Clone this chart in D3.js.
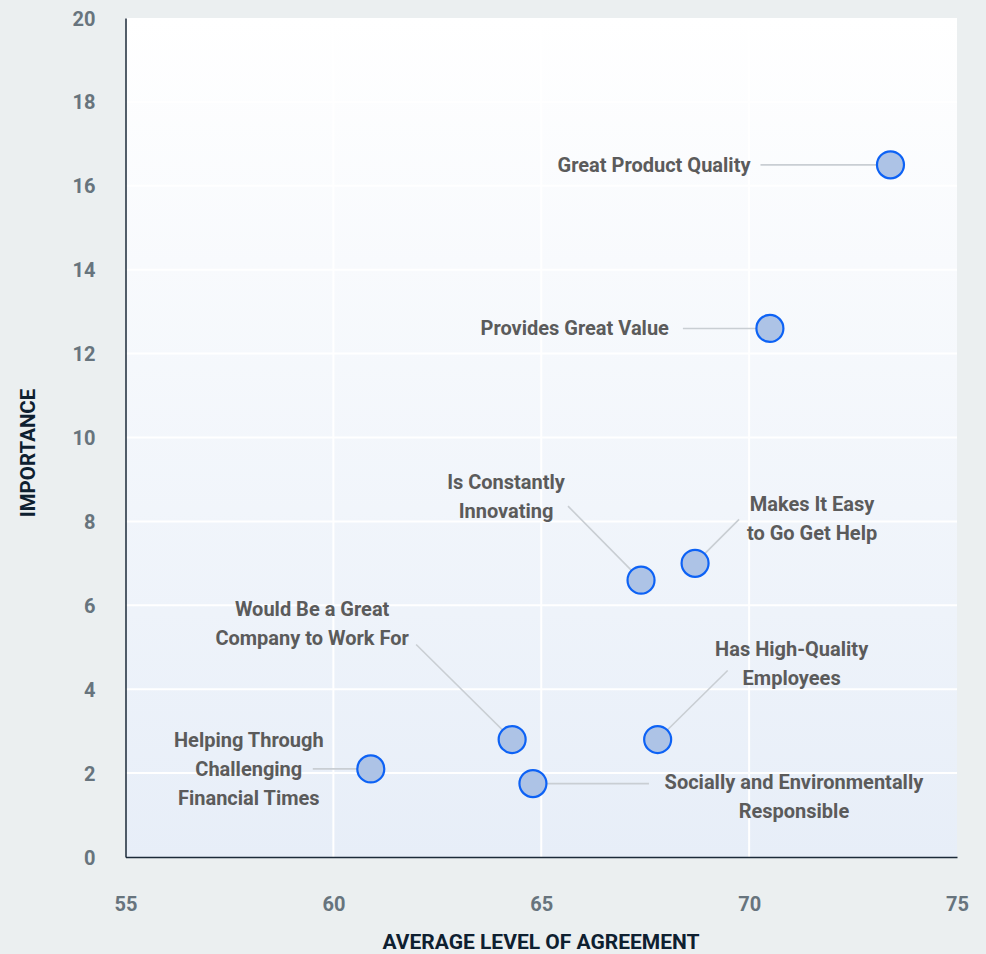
<!DOCTYPE html>
<html>
<head>
<meta charset="utf-8">
<script src="https://cdn.jsdelivr.net/npm/d3@7"></script>
<style>
  html, body { margin: 0; padding: 0; background: #ebeff0; }
  svg { display: block; font-family: Roboto, "Noto Sans", sans-serif; }
</style>
</head>
<body>
<svg id="chart" width="986" height="954"></svg>
<script>
// ---- data ----
const categories = [
  "Great Product Quality",
  "Provides Great Value",
  "Is Constantly Innovating",
  "Makes It Easy to Go Get Help",
  "Would Be a Great Company to Work For",
  "Has High-Quality Employees",
  "Helping Through Challenging Financial Times",
  "Socially and Environmentally Responsible"
];
const agreement = [73.4, 70.5, 67.4, 68.7, 64.3, 67.8, 60.9, 64.8];
const importance = [16.5, 12.6, 6.6, 7.0, 2.8, 2.8, 2.1, 1.75];
const xTicks = [55, 60, 65, 70, 75];
const yTicks = [0, 2, 4, 6, 8, 10, 12, 14, 16, 18, 20];
const xTitle = "AVERAGE LEVEL OF AGREEMENT";
const yTitle = "IMPORTANCE";

// ---- label layout (pixel offsets from each point) ----
const labelLines = [
  ["Great Product Quality"],
  ["Provides Great Value"],
  ["Is Constantly", "Innovating"],
  ["Makes It Easy", "to Go Get Help"],
  ["Would Be a Great", "Company to Work For"],
  ["Has High-Quality", "Employees"],
  ["Helping Through", "Challenging", "Financial Times"],
  ["Socially and Environmentally", "Responsible"]
];
const labelLayout = [
  { anchor: "end",    dx: -140, dy: 0,    lx: -130, ly: 0 },
  { anchor: "end",    dx: -101, dy: 0,    lx: -87,  ly: 0 },
  { anchor: "middle", dx: -135, dy: -98,  lx: -73,  ly: -74 },
  { anchor: "middle", dx: 117,  dy: -59,  lx: 44,   ly: -44 },
  { anchor: "middle", dx: -200, dy: -131, lx: -96,  ly: -95 },
  { anchor: "middle", dx: 134,  dy: -91,  lx: 70,   ly: -69 },
  { anchor: "middle", dx: -122, dy: -29,  lx: -58,  ly: 0 },
  { anchor: "middle", dx: 261,  dy: -2,   lx: 116,  ly: 0 }
];

const m = { left: 125.5, right: 957, top: 18, bottom: 857 };
const svg = d3.select("#chart");

const x = d3.scaleLinear().domain([55, 75]).range([m.left, m.right]);
const y = d3.scaleLinear().domain([0, 20]).range([m.bottom, m.top]);

// gradient
const defs = svg.append("defs");
const grad = defs.append("linearGradient").attr("id", "bg").attr("x1", 0).attr("y1", 0).attr("x2", 0).attr("y2", 1);
grad.append("stop").attr("offset", "0%").attr("stop-color", "#ffffff");
grad.append("stop").attr("offset", "100%").attr("stop-color", "#e7eef8");

svg.append("rect")
  .attr("x", m.left).attr("y", m.top)
  .attr("width", m.right - m.left).attr("height", m.bottom - m.top)
  .attr("fill", "url(#bg)");

// grid
const grid = svg.append("g");
grid.selectAll("line.h").data(yTicks.filter(d => d > 0 && d < 20)).join("line")
  .attr("x1", m.left).attr("x2", m.right)
  .attr("y1", d => y(d)).attr("y2", d => y(d))
  .attr("stroke", "#ffffff").attr("stroke-width", 2);
grid.selectAll("line.v").data(xTicks.filter(d => d > 55 && d < 75)).join("line")
  .attr("y1", m.top).attr("y2", m.bottom)
  .attr("x1", d => x(d)).attr("x2", d => x(d))
  .attr("stroke", "#ffffff").attr("stroke-width", 2);

// axes
const xAxis = svg.append("g").attr("transform", `translate(0,${m.bottom})`)
  .call(d3.axisBottom(x).tickValues(xTicks).tickSize(0).tickPadding(40));
const yAxis = svg.append("g").attr("transform", `translate(${m.left},0)`)
  .call(d3.axisLeft(y).tickValues(yTicks).tickSize(0).tickPadding(30));
[xAxis, yAxis].forEach(a => {
  a.select(".domain").attr("stroke", "#1b2a38").attr("stroke-width", 1.5);
  a.selectAll("text")
    .attr("fill", "#67747d")
    .style("font-size", "20px")
    .style("font-weight", "700")
    .style("font-family", "Roboto, sans-serif");
});
yAxis.selectAll("text").attr("dy", "0.35em");

// titles
svg.append("text")
  .attr("x", 541).attr("y", 949)
  .attr("text-anchor", "middle")
  .attr("fill", "#0e2030")
  .style("font-size", "21px").style("font-weight", "700")
  .text(xTitle);
svg.append("text")
  .attr("transform", `translate(35,453) rotate(-90)`)
  .attr("text-anchor", "middle")
  .attr("fill", "#0e2030")
  .style("font-size", "20.5px").style("font-weight", "700")
  .text(yTitle);

// data join
const pts = categories.map((c, i) => ({
  name: c, ax: agreement[i], im: importance[i], lines: labelLines[i], lay: labelLayout[i]
}));

// leader lines
svg.append("g").selectAll("line").data(pts).join("line")
  .attr("x1", d => x(d.ax) + d.lay.lx).attr("y1", d => y(d.im) + d.lay.ly)
  .attr("x2", d => x(d.ax)).attr("y2", d => y(d.im))
  .attr("stroke", "#c9ced3").attr("stroke-width", 1.6);

// labels
const lh = 29;
const lab = svg.append("g").selectAll("text").data(pts).join("text")
  .attr("text-anchor", d => d.lay.anchor)
  .attr("fill", "#5b5b5b")
  .style("font-size", "20px").style("font-weight", "700");
lab.each(function(d) {
  const t = d3.select(this);
  d.lines.forEach((s, k) => {
    t.append("tspan")
      .attr("x", x(d.ax) + d.lay.dx)
      .attr("y", y(d.im) + d.lay.dy + k * lh)
      .attr("dy", "0.35em")
      .text(s);
  });
});

// points
svg.append("g").selectAll("circle").data(pts).join("circle")
  .attr("cx", d => x(d.ax)).attr("cy", d => y(d.im))
  .attr("r", 13.5)
  .attr("fill", "#adc3e6")
  .attr("stroke", "#0d62f5").attr("stroke-width", 2.2);
</script>
</body>
</html>
